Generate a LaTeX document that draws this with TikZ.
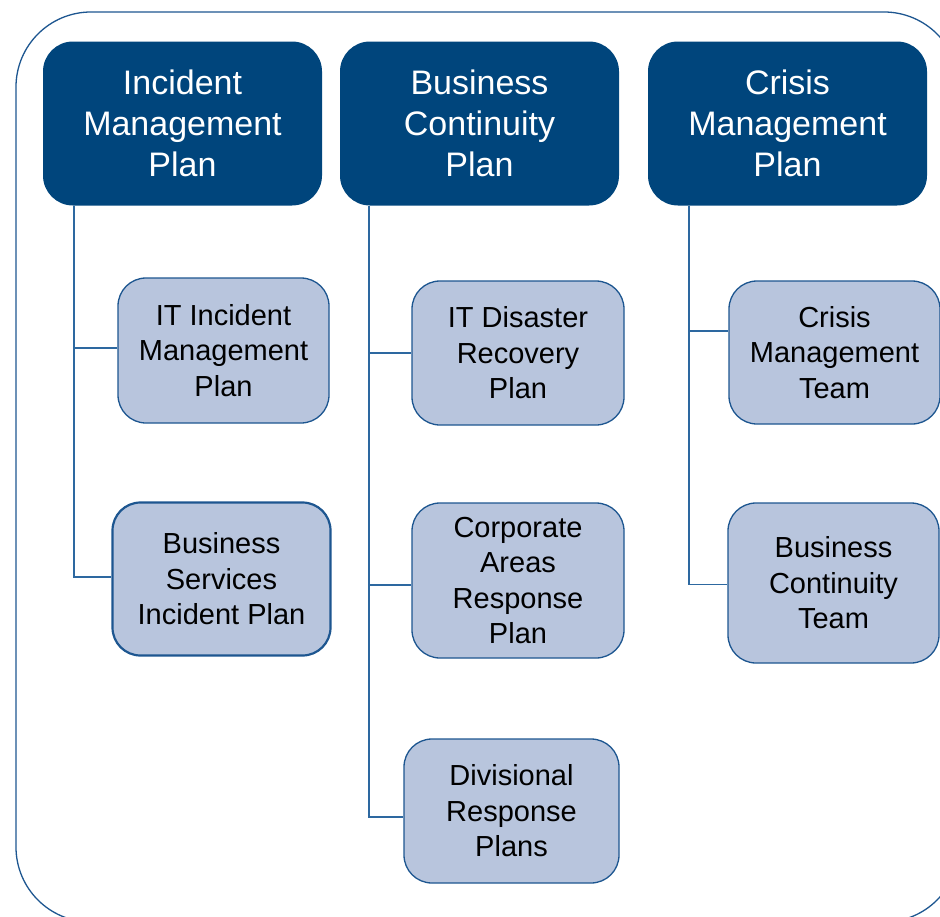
\documentclass[tikz,border=0pt]{standalone}
\usepackage{fontspec}
\setmainfont{Liberation Sans}
\usetikzlibrary{calc}
\definecolor{planblue}{HTML}{00457C}
\definecolor{subfill}{HTML}{B8C5DD}
\definecolor{subedge}{HTML}{1D5690}
\definecolor{linkblue}{HTML}{2D68A0}
\tikzset{
  planbox/.style={draw=none, fill=planblue, rounded corners=30pt, inner sep=0pt,
    align=center, text=white, font=\fontsize{34}{41}\selectfont},
  subbox/.style={draw=subedge, line width=1.3pt, fill=subfill, rounded corners=28pt,
    inner sep=0pt, align=center, text=black, font=\fontsize{29}{35.5}\selectfont},
  link/.style={draw=linkblue, line width=1.4pt},
  frame/.style={draw=subedge, line width=1.3pt, rounded corners=75pt}
}
\begin{document}
\begin{tikzpicture}[x=1pt, y=-1pt]
\useasboundingbox (0,0) rectangle (940,916);
\begin{scope}
  \clip (0,0) rectangle (940,916);
  \draw[frame] (16,12) rectangle (959,922);
\end{scope}

% top-level plans
\node[planbox, minimum width=279pt, minimum height=164pt] (imp) at (182.5,123.5) {Incident\\Management\\Plan};
\node[planbox, minimum width=279pt, minimum height=164pt] (bcp) at (479.5,123.5) {Business\\Continuity\\Plan};
\node[planbox, minimum width=279pt, minimum height=164pt] (cmp) at (787.5,123.5) {Crisis\\Management\\Plan};

% subordinate plans and teams
\node[subbox, minimum width=211pt, minimum height=145pt] (itimp) at (223.5,350.5) {IT Incident\\Management\\Plan};
\node[subbox, line width=2.2pt, minimum width=218pt, minimum height=153pt] (bsip) at (221.5,579) {Business\\Services\\Incident Plan};
\node[subbox, minimum width=212pt, minimum height=144pt] (itdr) at (518,353) {IT Disaster\\Recovery\\Plan};
\node[subbox, minimum width=212pt, minimum height=155pt] (carp) at (518,580.5) {Corporate\\Areas\\Response\\Plan};
\node[subbox, minimum width=215pt, minimum height=144pt] (drp) at (511.5,811) {Divisional\\Response\\Plans};
\node[subbox, minimum width=211pt, minimum height=143pt] (cmt) at (834.5,352.5) {Crisis\\Management\\Team};
\node[subbox, minimum width=211pt, minimum height=160pt] (bct) at (833.5,583) {Business\\Continuity\\Team};

% tree connectors
\draw[link] ([xshift=31pt]imp.south west) |- ($(itimp.north west)!0.483!(itimp.south west)$);
\draw[link] ([xshift=31pt]imp.south west) |- ($(bsip.north west)!0.487!(bsip.south west)$);
\draw[link] ([xshift=29pt]bcp.south west) |- (itdr.west);
\draw[link] ([xshift=29pt]bcp.south west) |- ($(carp.north west)!0.53!(carp.south west)$);
\draw[link] ([xshift=29pt]bcp.south west) |- ($(drp.north west)!0.54!(drp.south west)$);
\draw[link] ([xshift=41pt]cmp.south west) |- ($(cmt.north west)!0.35!(cmt.south west)$);
\draw[link] ([xshift=41pt]cmp.south west) |- ($(bct.north west)!0.51!(bct.south west)$);
\end{tikzpicture}
\end{document}
